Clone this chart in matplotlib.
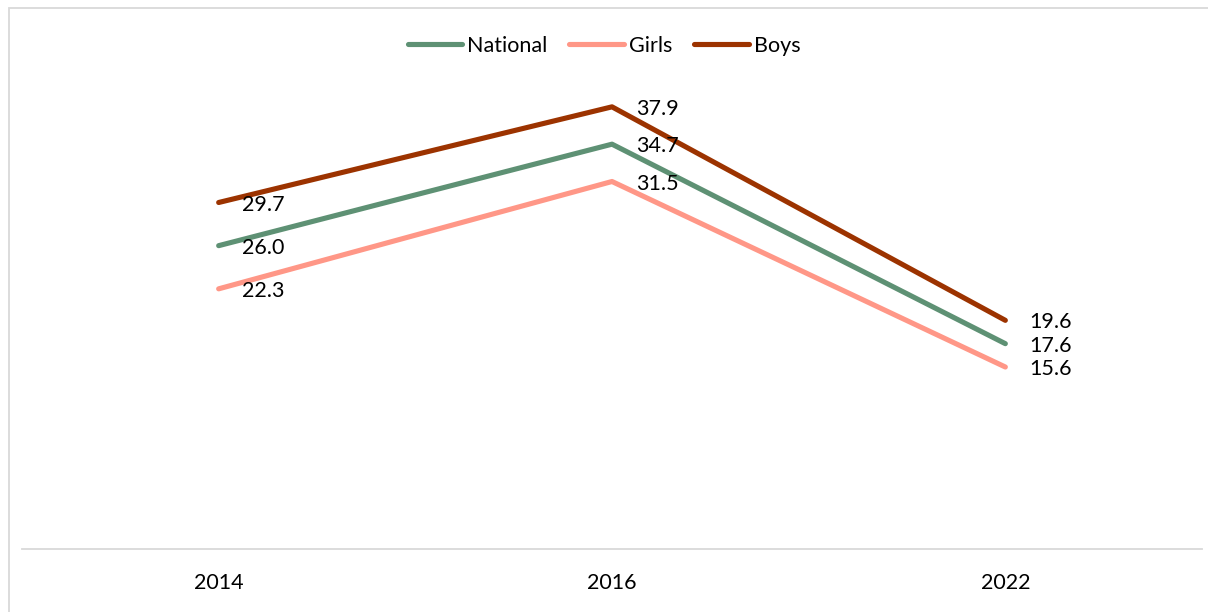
import matplotlib.pyplot as plt
from matplotlib.patches import Rectangle

# data
years = ['2014', '2016', '2022']
national = [26.0, 34.7, 17.6]
girls = [22.3, 31.5, 15.6]
boys = [29.7, 37.9, 19.6]

series = [
    ('National', national, '#5E9174'),
    ('Girls', girls, '#FF9787'),
    ('Boys', boys, '#9C3300'),
]

plt.rcParams['font.family'] = ['Lato', 'DejaVu Sans']
fs = 15.5

W, H = 1208, 612
fig = plt.figure(figsize=(W / 100, H / 100), dpi=100)
ax = fig.add_axes([22 / W, (H - 549) / H, (1202 - 22) / W, (549 - 24) / H])

x = list(range(len(years)))
for name, vals, color in series:
    ax.plot(x, vals, color=color, lw=3.7, solid_capstyle='round', label=name)
    for xi, v in zip(x, vals):
        ax.annotate(f'{v:.1f}', (xi, v), xytext=(17, -1.5), textcoords='offset points',
                    ha='left', va='center', fontsize=fs, color='black')

ax.set_xlim(-0.5, 2.5)
ax.set_ylim(0, 45)
ax.set_xticks(x)
ax.set_xticklabels(years, fontsize=fs)
ax.tick_params(axis='x', length=0, pad=17)
ax.set_yticks([])
for s in ['top', 'right', 'left']:
    ax.spines[s].set_visible(False)
ax.spines['bottom'].set_color('#D9D9D9')
ax.spines['bottom'].set_linewidth(1.3)

leg = ax.legend(loc='center', bbox_to_anchor=(0.5, (H - 46) / H), bbox_transform=fig.transFigure,
                ncol=3, frameon=False, fontsize=fs, handlelength=2.55, handletextpad=0.23,
                columnspacing=1.0)

# light grey frame around the chart
fig.patches.append(Rectangle((9 / W, -0.01), 1.02, (H - 8) / H + 0.01, transform=fig.transFigure,
                             fill=False, edgecolor='#D9D9D9', lw=1.3))

fig.savefig('out.png', dpi=100, facecolor='white')
